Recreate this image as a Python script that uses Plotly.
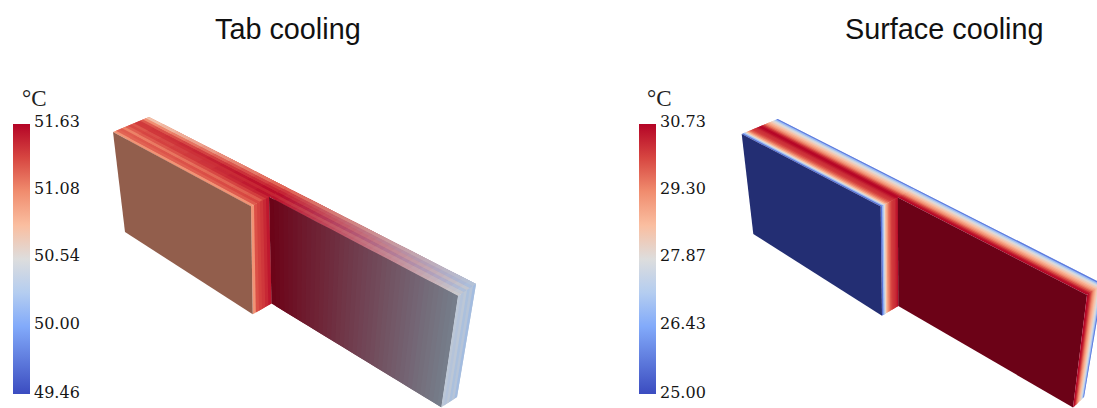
import numpy as np
import plotly.graph_objects as go

# ---- text and colour-bar values
TITLES = ["Tab cooling", "Surface cooling"]
UNIT = "°C"
TAB_TICKS = [49.46, 50.00, 50.54, 51.08, 51.63]
SURF_TICKS = [25.00, 26.43, 27.87, 29.30, 30.73]
TAB_TICKTEXT = ["49.46", "50.00", "50.54", "51.08", "51.63"]
SURF_TICKTEXT = ["25.00", "26.43", "27.87", "29.30", "30.73"]
TICK_LABEL_Y = [392, 323, 255, 188, 121]

# ---- temperatures (degC)
# Tab cooling: one value per layer across the cell stack, front to back
tab_top_left = [51.05, 51.24, 51.27, 51.12, 51.26, 51.34, 51.28, 51.40, 51.40, 51.28, 51.05, 50.75]
tab_top_mid = [51.05, 51.28, 51.36, 51.28, 51.40, 51.50, 51.58, 51.50, 51.60, 51.50, 51.42, 51.25]
tab_top_end = [50.52, 50.46, 50.33, 50.46, 50.30, 50.36]
tab_side = [51.05, 51.32, 51.38, 51.42, 51.48, 51.55]
tab_end = [50.42, 50.36, 50.42, 50.30, 50.38, 50.25]
tab_small_face = 51.00
tab_big_face = [51.63, 50.38]

# Surface cooling: profile across the stack, front to back
surf_profile = [25.0, 26.2, 27.5, 28.3, 28.9, 29.4, 29.7, 30.0, 30.2, 30.2, 30.3, 30.5, 30.7,
                30.73, 30.5, 30.1, 29.7, 29.3, 29.0, 28.7, 28.4, 28.1, 27.8, 27.2, 26.4, 25.0]
surf_small_face = 25.0
surf_big_face = 30.73

# ---- colour map of the bars
STOPS = [0, 0.25, 0.375, 0.5, 0.625, 0.75, 0.875, 1]
STOP_RGB = [(59, 76, 192), (130, 170, 250), (180, 205, 240), (221, 221, 221),
            (250, 190, 160), (240, 140, 110), (215, 70, 65), (180, 4, 38)]
COLORSCALE = [[s, "rgb(%d,%d,%d)" % c] for s, c in zip(STOPS, STOP_RGB)]

# ---- outline of each rendered pack on the page
SPLIT = 0.422      # where the small block ends along the length
TAB_GEO = dict(
    top=[(113, 132), (149, 117), (476, 284), (440, 308)],
    small_low=[(125, 232), (252.7, 314.3)],
    big_low=[(271.5, 303.5), (441.3, 407.3)],
    end_low=[(441.3, 407.3), (457, 397)],
)
SURF_GEO = dict(
    top=[(741.7, 134), (777.7, 119), (1103, 284), (1071, 306)],
    small_low=[(753.3, 234), (882, 315.7)],
    big_low=[(898.3, 306), (1073, 407.5)],
    end_low=[(1073, 407.5), (1084, 397)],
)
SHADE_FACE = 0.6
SHADE_END = 0.93


def cmap(value, vmin, vmax):
    f = (value - vmin) / (vmax - vmin)
    arr = np.array(STOP_RGB, float)
    return np.array([np.interp(f, STOPS, arr[:, i]) for i in range(3)])


def rgb(c):
    return "rgb(%d,%d,%d)" % tuple(np.clip(np.round(c), 0, 255))


fig = go.Figure()


def poly(pts, color):
    xs = [p[0] for p in pts] + [pts[0][0]]
    ys = [p[1] for p in pts] + [pts[0][1]]
    fig.add_trace(go.Scatter(x=xs, y=ys, mode="lines", fill="toself", fillcolor=color,
                             line=dict(color=color, width=0), hoverinfo="skip", showlegend=False))


def paint(p00, p10, p11, p01, colors):
    """Quad p00-p10 along u (columns), p00-p01 along v (rows).
    Each cell runs under its next neighbours so that no seam shows."""
    p00, p10, p11, p01 = map(lambda p: np.array(p, float), (p00, p10, p11, p01))
    nv, nu = len(colors), len(colors[0])

    def P(u, v):
        return (1 - v) * ((1 - u) * p00 + u * p10) + v * ((1 - u) * p01 + u * p11)

    for i in range(nv):
        for j in range(nu):
            u0, v0 = j / nu, i / nv
            u1, v1 = min(1, (j + 2) / nu), min(1, (i + 2) / nv)
            poly([P(u0, v0), P(u1, v0), P(u1, v1), P(u0, v1)], rgb(colors[i][j]))


def ramp(c_left, c_right, n):
    return [c_left + (c_right - c_left) * (k + 0.5) / n for k in range(n)]


def frame(geo):
    a, b, c, d = [np.array(p, float) for p in geo["top"]]

    def P(s, t):
        return (1 - s) * ((1 - t) * a + t * b) + s * ((1 - t) * d + t * c)

    return P


def draw_pack(geo, top_left, top_mid, top_end, side, end, small, big_l, big_r, vmin, vmax,
              n_left, n_right, n_big, end_shade):
    P = frame(geo)
    s1 = SPLIT
    c = lambda v: cmap(v, vmin, vmax)
    # top surface, small block length
    paint(P(0, 0), P(s1, 0), P(s1, 1), P(0, 1),
          [ramp(c(a), c(b), n_left) for a, b in zip(top_left, top_mid)])
    # top surface, rest of the length (back half of the stack)
    half = len(top_mid) // 2
    paint(P(s1, .5), P(1, .5), P(1, 1), P(s1, 1),
          [ramp(c(a), c(b) * end_shade, n_right) for a, b in zip(top_mid[half:], top_end)])
    # step between the two blocks
    paint(P(s1, 0), P(s1, .5), geo["big_low"][0], geo["small_low"][1],
          [[c(v) for v in side]])
    # small front face
    paint(P(0, 0), P(s1, 0), geo["small_low"][1], geo["small_low"][0], [[c(small) * SHADE_FACE]])
    # big front face
    paint(P(s1, .5), P(1, .5), geo["big_low"][1], geo["big_low"][0],
          [ramp(c(big_l) * SHADE_FACE, c(big_r) * SHADE_FACE, n_big)])
    # right end
    paint(P(1, .5), P(1, 1), geo["end_low"][1], geo["end_low"][0], [[c(v) * end_shade for v in end]])


def mids(vals):
    return [(a + b) / 2 for a, b in zip(vals[:-1], vals[1:])]


draw_pack(TAB_GEO, tab_top_left, tab_top_mid, tab_top_end, tab_side, tab_end,
          tab_small_face, tab_big_face[0], tab_big_face[1],
          TAB_TICKS[0], TAB_TICKS[-1], 10, 30, 40, SHADE_END)

bands = mids(surf_profile)
half_bands = len(bands) // 2
draw_pack(SURF_GEO, bands, bands, bands[half_bands:], bands[:half_bands], bands[half_bands:],
          surf_small_face, surf_big_face, surf_big_face,
          SURF_TICKS[0], SURF_TICKS[-1], 1, 1, 1, 1.0)


def colorbar_trace(ticks, x_px):
    return go.Scatter(
        x=[-50, -50], y=[-50, -50], mode="markers", hoverinfo="skip", showlegend=False,
        marker=dict(size=1, color=[ticks[0], ticks[-1]], cmin=ticks[0], cmax=ticks[-1], colorscale=COLORSCALE,
                    colorbar=dict(
                        x=x_px / 1097, xanchor="left", xpad=0, y=1 - 123.5 / 408, yanchor="top", ypad=0,
                        lenmode="pixels", len=270, thicknessmode="pixels", thickness=16.5,
                        outlinewidth=0, ticks="", showticklabels=False)))


fig.add_trace(colorbar_trace(TAB_TICKS, 13))
fig.add_trace(colorbar_trace(SURF_TICKS, 639))

# tick labels sit a little above their value in the source render
for texts, x_px in ((TAB_TICKTEXT, 33), (SURF_TICKTEXT, 659)):
    for label, y_px in zip(texts, TICK_LABEL_Y):
        fig.add_annotation(text=label, x=x_px, y=y_px, xref="x", yref="y", xanchor="left", xshift=-1,
                           showarrow=False, font=dict(family="DejaVu Serif", size=16, color="#161616"))

for label, x_px in zip(TITLES, (287.5, 944)):
    fig.add_annotation(text=label, x=x_px, y=29, xref="x", yref="y", showarrow=False,
                       font=dict(family="Liberation Sans", size=28.8, color="#111111"))
for x_px in (34, 659):
    fig.add_annotation(text=UNIT, x=x_px, y=98, xref="x", yref="y", showarrow=False,
                       font=dict(family="Liberation Serif", size=23, color="#222222"))

fig.update_layout(
    width=1097, height=408, margin=dict(l=0, r=0, t=0, b=0, autoexpand=False),
    paper_bgcolor="white", plot_bgcolor="white", showlegend=False,
    xaxis=dict(range=[0, 1097], visible=False, fixedrange=True),
    yaxis=dict(range=[408, 0], visible=False, fixedrange=True),
)
fig.write_html("out.html", config=dict(displayModeBar=False),
               post_script="document.body.style.margin='0';document.body.style.overflow='hidden';")
